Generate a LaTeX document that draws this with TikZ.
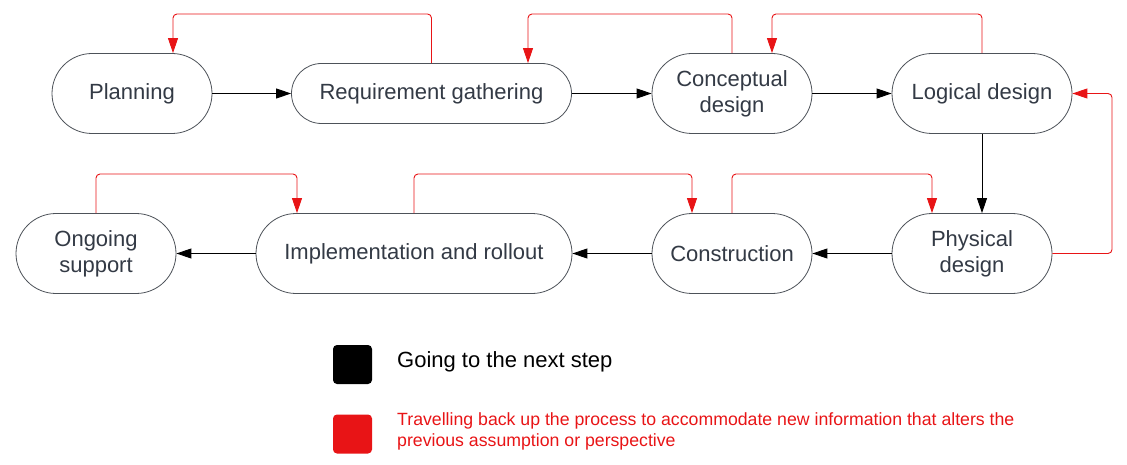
\documentclass[tikz,border=0pt]{standalone}
\usepackage{fontspec}
\setmainfont{Liberation Sans}
\usetikzlibrary{arrows.meta,positioning}
\definecolor{StepText}{HTML}{333A45}
\definecolor{StepBorder}{HTML}{4D5259}
\definecolor{BackRed}{HTML}{E81416}

\begin{document}
\begin{tikzpicture}[x=1pt, y=-1pt,
    stage/.style={draw=StepBorder, line width=0.8pt, fill=white, rounded corners=40pt, minimum width=160pt, minimum height=80pt, inner sep=0pt, text=StepText, align=center, font=\fontsize{22}{26}\selectfont},
    fwd/.style={-{Triangle[length=15pt,width=10pt]}, draw=black, line width=0.9pt},
    back/.style={-{Triangle[length=15pt,width=10pt]}, draw=BackRed, line width=0.9pt, rounded corners=4pt},
    legbox/.style={minimum size=39pt, rounded corners=4pt, inner sep=0pt}
  ]
    \useasboundingbox (0,0) rectangle (1127,465);

    % top row
    \node[stage] (plan) at (132,93.5) {Planning};
    \node[stage, minimum width=280pt, minimum height=60pt, rounded corners=30pt] (req) at (431.5,93.5) {Requirement gathering};
    \node[stage] (concept) at (732,93.5) {Conceptual\\design};
    \node[stage, minimum width=180pt] (logical) at (982,93.5) {Logical design};

    % bottom row
    \node[stage] (physical) at (972,253.5) {Physical\\design};
    \node[stage] (construct) at (732,253.5) {Construction};
    \node[stage, minimum width=316pt] (impl) at (414,253.5) {Implementation and rollout};
    \node[stage] (support) at (96,253.5) {Ongoing\\support};

    % next step
    \draw[fwd] (plan.east) -- (req.west);
    \draw[fwd] (req.east) -- (concept.west);
    \draw[fwd] (concept.east) -- (logical.west);
    \draw[fwd] (logical.south) -- (logical.south |- physical.north);
    \draw[fwd] (physical.west) -- (construct.east);
    \draw[fwd] (construct.west) -- (impl.east);
    \draw[fwd] (impl.west) -- (support.east);

    % back up the process
    \draw[back] (req.north) |- (173,14) -- (plan.north -| 173,14);
    \draw[back] (concept.north) |- (528,14) -- (req.north -| 528,14);
    \draw[back] (logical.north) |- (772,14) -- (concept.north -| 772,14);
    \draw[back] (physical.east) -| (1112,93.5) -- (logical.east);
    \draw[back] (construct.north) |- (932,174) -- (physical.north -| 932,174);
    \draw[back] (impl.north) |- (692,174) -- (construct.north -| 692,174);
    \draw[back] (support.north) |- (297,174) -- (impl.north -| 297,174);

    % legend
    \node[legbox, fill=black] (legnext) at (352.5,364.5) {};
    \node[anchor=west, inner sep=0pt, font=\fontsize{22}{26}\selectfont] (legnexttxt) at (397,362) {Going to the next step};
    \node[legbox, fill=BackRed] (legback) at (352.5,434) {};
    \node[anchor=west, inner sep=0pt, align=left, text=BackRed, font=\fontsize{17.7}{21}\selectfont] (legbacktxt) at (397,431.5) {Travelling back up the process to accommodate new information that alters the\\previous assumption or perspective};
  \end{tikzpicture}
\end{document}
